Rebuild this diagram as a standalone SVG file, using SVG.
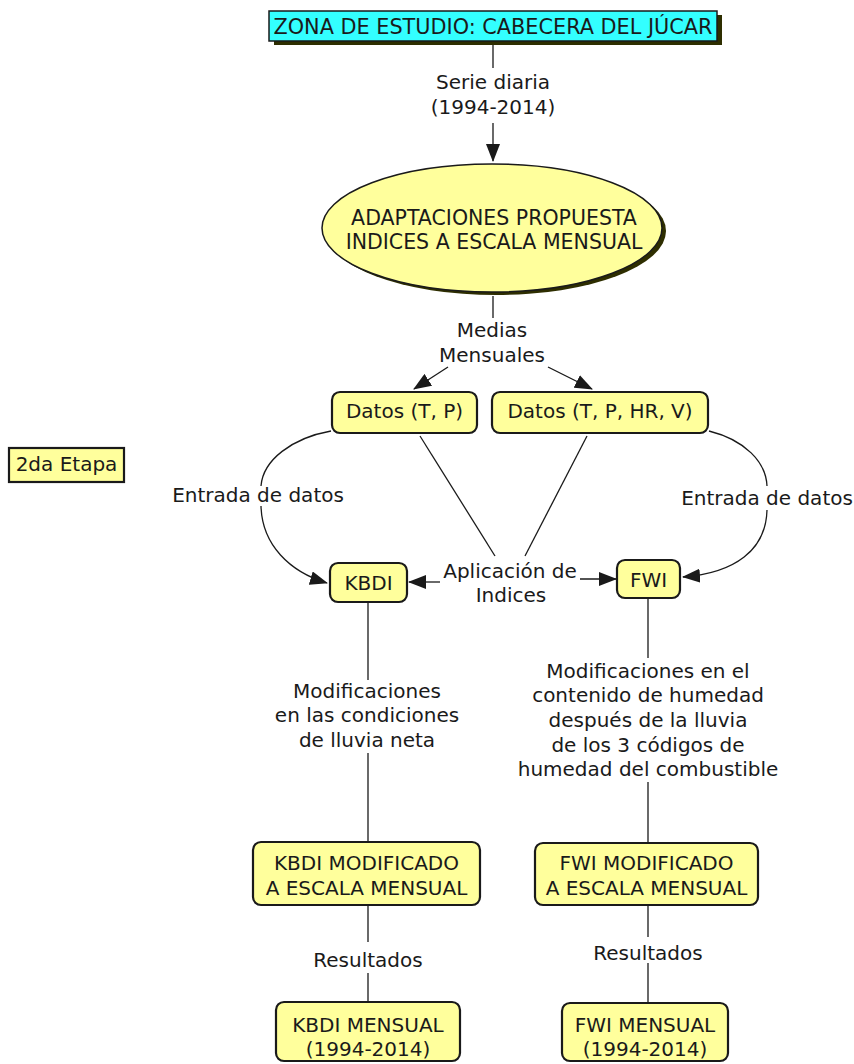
<svg xmlns="http://www.w3.org/2000/svg" width="854" height="1064" viewBox="0 0 854 1064">
<style>
text{font-family:"DejaVu Sans","Verdana",sans-serif;font-size:20px;fill:#1a1a1a;text-anchor:middle}
.box{fill:#ffff9c;stroke:#1a1a1a;stroke-width:2.2}
.shadow{fill:#2e2e00}
.ln{fill:none;stroke:#1a1a1a;stroke-width:1.3}
.arr{marker-end:url(#ah)}
</style>
<defs>
<marker id="ah" markerUnits="userSpaceOnUse" markerWidth="18" markerHeight="14" viewBox="0 0 18 14" refX="17" refY="7" orient="auto">
<path d="M0,0 L18,7 L0,14 Z" fill="#1a1a1a"/>
</marker>
</defs>
<g id="connectors">
<line class="ln" x1="493" y1="45" x2="493" y2="68"/>
<line class="ln arr" x1="493" y1="123" x2="493" y2="161"/>
<line class="ln" x1="493" y1="296" x2="493" y2="318"/>
<line class="ln arr" x1="448" y1="367" x2="414" y2="389"/>
<line class="ln arr" x1="548" y1="367" x2="592" y2="389"/>
<path class="ln" d="M331,431 C292,438 263,460 261,486"/>
<path class="ln arr" d="M261,506 C262,545 290,572 327,583"/>
<path class="ln" d="M709,431 C745,440 766,462 767,486"/>
<path class="ln arr" d="M767,510 C766,550 735,573 683,577"/>
<line class="ln" x1="420" y1="436" x2="495" y2="556"/>
<line class="ln" x1="587" y1="436" x2="525" y2="556"/>
<line class="ln arr" x1="440" y1="582" x2="409" y2="582"/>
<line class="ln arr" x1="580" y1="579" x2="616" y2="579"/>
<line class="ln" x1="368" y1="602" x2="368" y2="680"/>
<line class="ln" x1="368" y1="753" x2="368" y2="842"/>
<line class="ln" x1="648" y1="598" x2="648" y2="658"/>
<line class="ln" x1="648" y1="782" x2="648" y2="843"/>
<line class="ln" x1="368" y1="905" x2="368" y2="942"/>
<line class="ln" x1="368" y1="973" x2="368" y2="1002"/>
<line class="ln" x1="648" y1="905" x2="648" y2="937"/>
<line class="ln" x1="648" y1="963" x2="648" y2="1003"/>
<text x="493" y="89">Serie diaria</text>
<text x="493" y="114">(1994-2014)</text>
<text x="492" y="337">Medias</text>
<text x="492" y="362">Mensuales</text>
<text x="258" y="502">Entrada de datos</text>
<text x="767" y="505">Entrada de datos</text>
<text x="510" y="578">Aplicación de</text>
<text x="511" y="602">Indices</text>
<text x="367" y="698">Modificaciones</text>
<text x="367" y="722">en las condiciones</text>
<text x="367" y="747">de lluvia neta</text>
<text x="648" y="678">Modificaciones en el</text>
<text x="648" y="702">contenido de humedad</text>
<text x="648" y="727">después de la lluvia</text>
<text x="648" y="752">de los 3 códigos de</text>
<text x="648" y="776">humedad del combustible</text>
<text x="368" y="967">Resultados</text>
<text x="648" y="960">Resultados</text>
</g>
<g id="zona">
<rect class="shadow" x="274" y="15" width="448" height="30"/>
<rect x="269" y="11" width="448" height="30" fill="#33ffff" stroke="#1a1a1a" stroke-width="1.5"/>
<text x="493" y="34" style="font-size:20.8px">ZONA DE ESTUDIO: CABECERA DEL JÚCAR</text>
</g>
<g id="adaptaciones">
<ellipse class="shadow" cx="496" cy="231" rx="170" ry="64"/>
<ellipse cx="492" cy="228" rx="170" ry="64" fill="#ffff9c" stroke="#1a1a1a" stroke-width="1.5"/>
<text x="494" y="225" style="font-size:20.5px">ADAPTACIONES PROPUESTA</text>
<text x="494" y="249" style="font-size:20.5px">INDICES A ESCALA MENSUAL</text>
</g>
<g id="datos-tp">
<rect class="box" x="332" y="392" width="145" height="41" rx="8"/>
<text x="404.5" y="418">Datos (T, P)</text>
</g>
<g id="datos-tphrv">
<rect class="box" x="492" y="392" width="216" height="41" rx="8"/>
<text x="600" y="418">Datos (T, P, HR, V)</text>
</g>
<g id="etapa">
<rect x="9" y="448" width="115" height="34" fill="#ffff9c" stroke="#1a1a1a" stroke-width="2.2"/>
<text x="66.5" y="471">2da Etapa</text>
</g>
<g id="kbdi">
<rect class="box" x="330" y="563" width="77" height="39" rx="8"/>
<text x="368.5" y="590">KBDI</text>
</g>
<g id="fwi">
<rect class="box" x="617" y="560" width="63" height="38" rx="8"/>
<text x="648.5" y="587">FWI</text>
</g>
<g id="kbdi-mod">
<rect class="box" x="253" y="842" width="227" height="63" rx="8"/>
<text x="366.5" y="870">KBDI MODIFICADO</text>
<text x="366.5" y="895">A ESCALA MENSUAL</text>
</g>
<g id="fwi-mod">
<rect class="box" x="535" y="843" width="223" height="62" rx="8"/>
<text x="646.5" y="870">FWI MODIFICADO</text>
<text x="646.5" y="895">A ESCALA MENSUAL</text>
</g>
<g id="kbdi-mensual">
<rect class="box" x="276" y="1002" width="184" height="59" rx="8"/>
<text x="368" y="1032">KBDI MENSUAL</text>
<text x="368" y="1056">(1994-2014)</text>
</g>
<g id="fwi-mensual">
<rect class="box" x="562" y="1003" width="166" height="58" rx="8"/>
<text x="645" y="1032">FWI MENSUAL</text>
<text x="645" y="1056">(1994-2014)</text>
</g>
</svg>
